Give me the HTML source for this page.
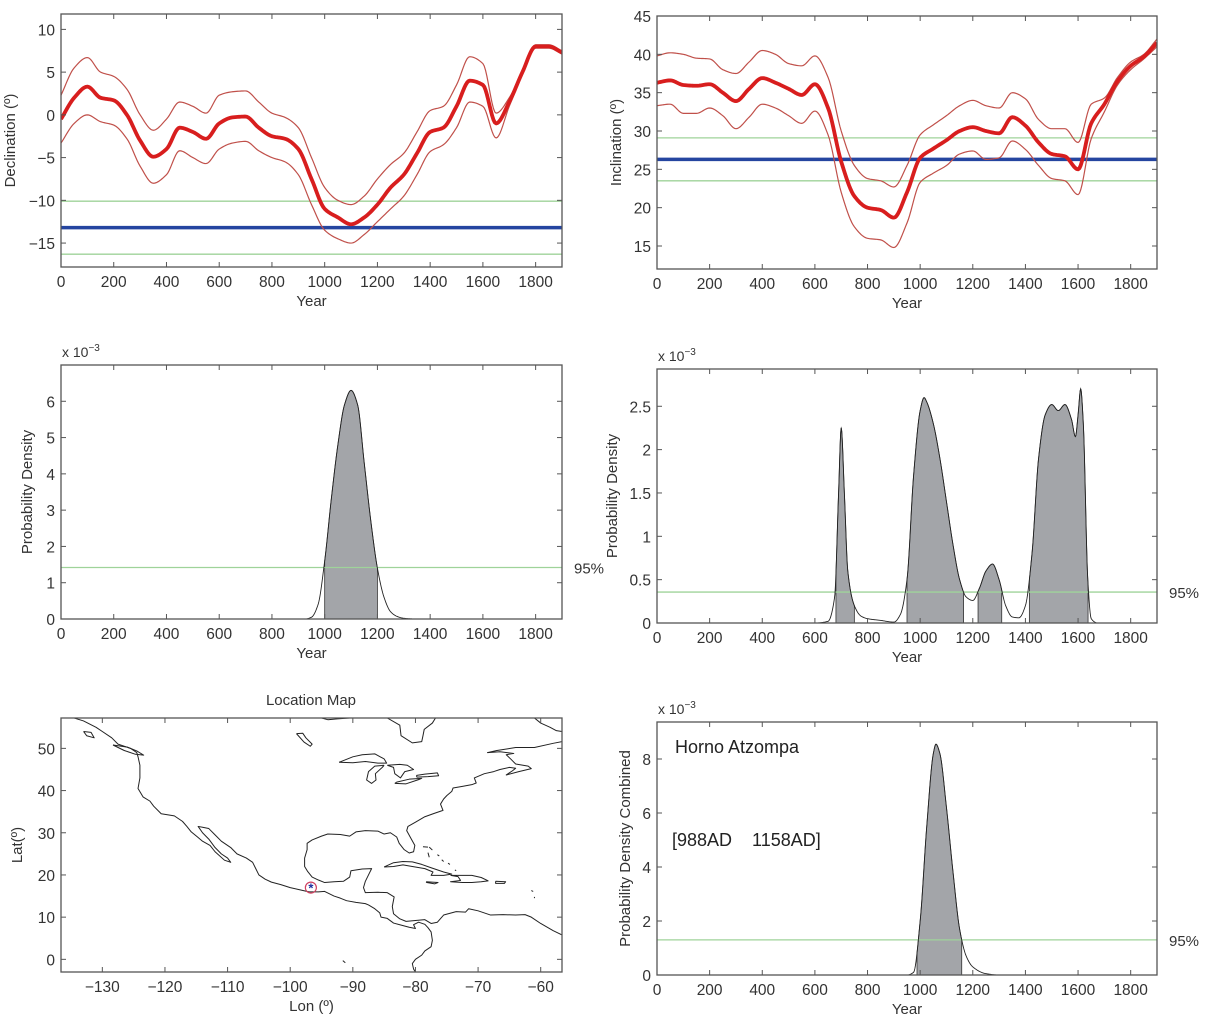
<!DOCTYPE html>
<html><head><meta charset="utf-8"><style>
html,body{margin:0;padding:0;background:#fff;}
svg{display:block;font-family:"Liberation Sans",Arial,sans-serif;}
</style></head><body>
<svg id="fig" width="1207" height="1024" viewBox="0 0 1207 1024" xmlns="http://www.w3.org/2000/svg"></svg>
<script>
// ---------- DATA ----------
const years50 = [0,50,100,150,200,250,300,350,400,450,500,550,600,650,700,750,800,850,900,950,1000,1050,1100,1150,1200,1250,1300,1350,1400,1450,1500,1550,1600,1650,1700,1750,1800,1850,1900];
const decMean = [-0.5,2,3.3,2,1.7,0,-3,-4.9,-4,-1.5,-2,-2.8,-1,-0.3,-0.2,-1.5,-2.5,-2.8,-4,-7.5,-11,-12,-12.8,-12,-10.5,-8.5,-7,-4.5,-2,-1.5,1,4,3.5,-1,1.5,5,8,8,7.3];
const decUpper = [2.3,5.5,6.7,5,4.5,3,0,-1.8,-0.5,1.5,1,0.2,2.3,2.7,2.8,1.5,0.2,-0.3,-1.5,-5,-8.5,-10,-10.5,-9.5,-7.5,-5.8,-4.5,-2,0.5,1,3.5,6.8,6,0.2,2,5.3,8.2,8.2,7.5];
const decLower = [-3.3,-1,0,-0.8,-1.2,-2.8,-6,-8,-7,-4.2,-5,-5.7,-4,-3.3,-3.1,-4.2,-5,-5.5,-7,-10.5,-13.5,-14.5,-15,-14,-12.5,-11,-9.5,-7,-4.3,-3.5,-1.5,1.5,1,-2.7,1,4.7,7.8,7.8,7.1];
const decRef = [-13.2, -10.1, -16.3]; // mean, upper95, lower95
const incMean = [36.3,36.6,36,35.9,36.1,35,33.9,35.5,36.9,36.3,35.5,34.7,36.1,33,26,21.5,20,19.7,18.7,22,26.5,27.7,28.8,30,30.5,30,29.7,31.8,30.7,28.5,27,26.7,25,31,33.5,36.5,38.5,39.7,41.5];
const incUpper = [39.8,40.2,40,39.5,39.4,38,37.5,39,40.5,40,38.8,38.5,39.8,37,30,25.5,23.8,23.5,22.7,25.5,29.5,30.8,32,33.3,34,33.3,33,35,34.2,31.5,30.3,30.3,28.5,33.5,34.3,37,39,40,42];
const incLower = [33.3,33.5,32.3,32.3,33,32,30.3,31.8,33.5,33,32,31,32.6,29.5,22,17.5,16,15.8,14.8,18,23.3,24.5,25.5,27,27.4,26.3,26.5,28.7,27.6,25.5,23.8,23.5,21.7,29,32.5,36,38,39.4,41];
const incRef = [26.3, 29.1, 23.5];

const pdDecYears = [0,850,900,925,950,975,1000,1025,1050,1075,1100,1125,1150,1175,1200,1225,1250,1275,1300,1350,1900];
const pdDecVals  = [0,0,0,0,0.05,0.4,1.6,3.3,4.8,5.9,6.3,5.9,4.3,2.7,1.4,0.6,0.2,0.07,0.02,0,0];
const pdDecLevel = 1.42;
const pdDecIntervals = [[1000,1200]];

const pdIncYears = [0,600,650,675,690,700,712,725,750,775,800,850,900,925,950,975,1000,1015,1025,1050,1075,1100,1125,1150,1175,1200,1225,1250,1275,1300,1325,1350,1375,1400,1425,1450,1475,1500,1525,1550,1575,1590,1600,1610,1620,1637,1650,1675,1900];
const pdIncVals  = [0,0,0.02,0.3,1.5,2.25,1.5,0.6,0.2,0.08,0.05,0.03,0.01,0.1,0.5,1.7,2.45,2.6,2.55,2.3,1.9,1.4,0.9,0.5,0.3,0.26,0.4,0.6,0.68,0.5,0.2,0.07,0.06,0.2,0.8,1.9,2.4,2.52,2.45,2.52,2.35,2.15,2.4,2.7,2.3,0.5,0.05,0,0];
const pdIncLevel = 0.357;
const pdIncIntervals = [[680,750],[950,1165],[1220,1310],[1415,1638]];

const pdCombYears = [0,900,950,975,1000,1025,1050,1060,1075,1100,1125,1150,1175,1200,1250,1300,1900];
const pdCombVals  = [0,0,0,0.1,2,5.5,8.2,8.55,8.2,6.2,3.8,1.7,0.7,0.3,0.05,0,0];
const pdCombLevel = 1.3;
const pdCombIntervals = [[988,1158]];

const yearTicks = [0,200,400,600,800,1000,1200,1400,1600,1800];
const decTicks = [10,5,0,-5,-10,-15];
const incTicks = [15,20,25,30,35,40,45];
const pdDecTicks = [0,1,2,3,4,5,6];
const pdIncTicks = [0,0.5,1,1.5,2,2.5];
const pdCombTicks = [0,2,4,6,8];
const lonTicks = [-130,-120,-110,-100,-90,-80,-70,-60];
const latTicks = [0,10,20,30,40,50];
const site = [-96.7, 17];

const coastPacific = [[-134.5,57.2],[-133,56.5],[-131,55],[-130,54],[-128.5,52.5],[-127.5,51],[-125.5,50],[-124.5,49],[-124.3,48],[-124,46],[-124,43],[-124.3,40.5],[-123.5,38.5],[-122.4,37.5],[-121.8,36.3],[-120.6,34.5],[-118.5,34],[-117.2,32.7],[-116.5,31.5],[-115.8,30.2],[-114.8,29],[-114,28],[-112.8,27],[-112,25.5],[-110.5,23.5],[-109.5,23],[-110,24],[-111,25],[-112,26.5],[-113,28.5],[-114,30],[-114.7,31.5],[-114,31.3],[-113,31],[-112,29.5],[-111,28],[-109.5,26.5],[-108.5,25],[-107,24],[-106,23],[-105.5,21.5],[-105,20],[-104,19],[-103,18.3],[-101.5,17.7],[-100,17],[-98.5,16.5],[-97,16],[-95.5,16],[-94.5,16.1],[-93,15],[-92,14.5],[-91,13.9],[-89.5,13.5],[-88,13.2],[-87.5,12.9],[-86.5,12],[-85.7,11],[-85.5,10],[-84.5,9.7],[-83.5,8.6],[-82.5,8.2],[-81,7.6],[-80,7.3],[-80.3,8.2],[-79.5,8.8],[-78.5,8.3],[-78,7.5],[-77.5,6.5],[-77.3,4.5],[-77.5,3],[-78.5,2],[-79,1],[-80,0],[-80.5,-1],[-80.3,-2.3],[-80,-3]];
const coastAtlantic = [[-56.6,5.8],[-58,6.8],[-60,8.5],[-61.5,10],[-62.5,10.6],[-64,10.5],[-66,10.6],[-68,10.5],[-70,11.5],[-71.5,12],[-72,11.2],[-73.5,11.3],[-75.5,10.5],[-76.5,8.8],[-77.5,8.5],[-78.5,9.4],[-80,9.2],[-81.5,9],[-82.5,9.6],[-83.5,10.8],[-83.7,12.5],[-83.4,14.8],[-84.5,15.8],[-86,15.9],[-88,15.8],[-88.3,17],[-88,18.5],[-87.5,20],[-87,21.5],[-88.5,21.4],[-90.3,21],[-90.5,19.5],[-91.5,18.5],[-93,18.4],[-94.5,18.2],[-95.5,18.8],[-96.5,19.5],[-97.2,20.8],[-97.7,22],[-97.7,24],[-97.3,26],[-97.3,27.5],[-96.5,28.3],[-95,29.2],[-94,29.7],[-92,29.6],[-90.5,29.2],[-89.5,30.2],[-88,30.5],[-86,30.4],[-85,29.7],[-84,30],[-83,29],[-82.6,27.5],[-81.8,26],[-81,25.2],[-80.3,25.5],[-80.1,27],[-80.7,28.6],[-81.4,30.5],[-81.2,31.5],[-80,32.5],[-78.5,33.8],[-77,34.6],[-75.6,35.3],[-76,36.8],[-75.5,38],[-75,38.8],[-74.2,39.8],[-74,40.6],[-72.5,41],[-71,41.4],[-70.3,41.8],[-70.6,43],[-69,44],[-67.5,44.5],[-66.5,45],[-65,45.5],[-64,45.3],[-64.5,44.7],[-65.5,43.7],[-63.5,44.5],[-61.5,45.2],[-62,45.8],[-64,46.3],[-64.8,47.5],[-65.5,48.5],[-64.3,48.8],[-66.5,49.2],[-68.5,49],[-67,49.5],[-64,50.2],[-61,50.2],[-58,51.2],[-56.6,51.6]];
const coastHudson = [[-95,57.2],[-94,56.8],[-92.5,57],[-90.5,57.2]];
const coastJames = [[-84.5,57.2],[-82.5,55.5],[-82.3,53],[-80.5,51.3],[-79,51.6],[-78.8,53],[-78.6,54.5],[-77.3,56],[-76.8,57.2]];
const coastTopRight = [[-61,57.2],[-60,56],[-58.5,55],[-57.5,54.2],[-56.6,54]];
const vancouver = [[-128.3,50.8],[-126,50.3],[-124.5,49.4],[-123.4,48.4],[-124.7,48.6],[-126.5,49.5],[-128.3,50.8]];
const queenCharlotte = [[-133,54],[-131.8,53.8],[-131.3,52.5],[-132.5,53],[-133,54]];
const lakeWinnipeg = [[-99,53.5],[-98,53.6],[-97.5,52.5],[-96.5,51],[-96.8,50.5],[-97.8,51.5],[-99,53.5]];
const lakeSuperior = [[-92.2,46.7],[-90,46.6],[-88,46.9],[-86,46.5],[-84.6,46.5],[-85,47.5],[-86.5,48.7],[-88.5,48.5],[-90,48],[-92.2,46.7]];
const lakeMichigan = [[-85,46],[-86.5,45.8],[-87.5,44.5],[-87.8,42.5],[-87,41.7],[-86.3,42.5],[-86.4,44],[-85.3,45.5],[-85,46]];
const lakeHuron = [[-84.5,46],[-83.5,45.5],[-83.3,44],[-82.4,43],[-81.7,44.5],[-80.3,45],[-81.3,46],[-82.5,46.2],[-84.5,46]];
const lakeErie = [[-83.3,41.7],[-81.5,41.6],[-79.5,42.6],[-79,42.9],[-81,42.7],[-83,42],[-83.3,41.7]];
const lakeOntario = [[-79.8,43.2],[-78,43.3],[-76.3,43.5],[-76.5,44.2],[-78.5,43.9],[-79.8,43.6],[-79.8,43.2]];
const cuba = [[-85,21.9],[-83.5,22.9],[-82,23.2],[-80.5,23.1],[-79,22.5],[-77.5,21.7],[-75.5,20.7],[-74.2,20.2],[-75.5,19.9],[-77.5,19.9],[-77.2,20.7],[-78.5,21.5],[-80.5,22],[-82,22.4],[-83.5,22],[-85,21.9]];
const hispaniola = [[-74.4,19.9],[-72.5,19.9],[-71,19.9],[-69.5,19.4],[-68.4,18.6],[-69.5,18.4],[-71,18.2],[-72.5,18.2],[-74.4,18.4],[-72.8,18.7],[-73.2,19.6],[-74.4,19.9]];
const jamaica = [[-78.3,18.4],[-76.4,18.2],[-76.9,17.9],[-78.2,18.2],[-78.3,18.4]];
const puertoRico = [[-67.2,18.5],[-65.6,18.4],[-65.8,18],[-67.2,18],[-67.2,18.5]];
const bahamas = [[[-78.8,26.7],[-78,26.6]],[[-77.8,26.6],[-77.3,25.9]],[[-78,25.3],[-77.8,24.2]],[[-76.5,24.8],[-76.2,24.5]],[[-75.8,23.6],[-75.5,23.2]],[[-74.8,22.8],[-74.5,22.5]],[[-73.7,21.2],[-73.5,21]],[[-61.5,16.3],[-61.2,16.1]],[[-61,14.8],[-61,14.5]],[[-91.6,-0.3],[-91.2,-0.8]]];

// ---------- HELPERS ----------
const NS = "http://www.w3.org/2000/svg";
const svg = document.getElementById('fig');
function mk(tag, attrs, parent) {
  const e = document.createElementNS(NS, tag);
  for (const k in attrs) e.setAttribute(k, attrs[k]);
  (parent || svg).appendChild(e);
  return e;
}
function mono(xs, ys) {
  const n = xs.length, d = [], m = [];
  for (let i = 0; i < n - 1; i++) d.push((ys[i+1]-ys[i])/(xs[i+1]-xs[i]));
  m[0] = d[0]; m[n-1] = d[n-2];
  for (let i = 1; i < n - 1; i++) {
    if (d[i-1]*d[i] <= 0) m[i] = 0;
    else { const w1 = 2*(xs[i+1]-xs[i])+(xs[i]-xs[i-1]), w2 = (xs[i+1]-xs[i])+2*(xs[i]-xs[i-1]); m[i] = (w1+w2)/(w1/d[i-1]+w2/d[i]); }
  }
  return function(x) {
    let i = 0;
    while (i < n - 2 && x > xs[i+1]) i++;
    const h = xs[i+1]-xs[i], t = (x-xs[i])/h, t2 = t*t, t3 = t2*t;
    return (2*t3-3*t2+1)*ys[i] + (t3-2*t2+t)*h*m[i] + (-2*t3+3*t2)*ys[i+1] + (t3-t2)*h*m[i+1];
  };
}
function axes(name, x0, x1, y0, y1, xmin, xmax, ymin, ymax, xt, yt, xlabel, ylabel, ylabX, xfmt) {
  const g = mk('g', {});
  
  
  const sx = v => x0 + (v - xmin) / (xmax - xmin) * (x1 - x0);
  const sy = v => y1 - (v - ymin) / (ymax - ymin) * (y1 - y0);
  mk('rect', {x:x0, y:y0, width:x1-x0, height:y1-y0, fill:'#fff', stroke:'none'}, g);
  return {g, sx, sy, finish: function() {
    const f = mk('g', {}, g);
    
    
    mk('rect', {x:x0, y:y0, width:x1-x0, height:y1-y0, fill:'none', stroke:'#555', 'stroke-width':1.3}, f);
    xt.forEach(v => {
      const x = sx(v);
      mk('line', {x1:x, x2:x, y1:y1, y2:y1-5, stroke:'#555', 'stroke-width':1}, f);
      mk('line', {x1:x, x2:x, y1:y0, y2:y0+5, stroke:'#555', 'stroke-width':1}, f);
      const t = mk('text', {x:x, y:y1+20, 'font-size':15.5, 'text-anchor':'middle', fill:'#333'}, f);
      t.textContent = xfmt ? xfmt(v) : String(v);
      
      
    });
    yt.forEach(v => {
      const y = sy(v);
      mk('line', {x1:x0, x2:x0+5, y1:y, y2:y, stroke:'#555', 'stroke-width':1}, f);
      mk('line', {x1:x1, x2:x1-5, y1:y, y2:y, stroke:'#555', 'stroke-width':1}, f);
      const t = mk('text', {x:x0-6, y:y+6, 'font-size':15.5, 'text-anchor':'end', fill:'#333'}, f);
      t.textContent = String(v).replace('-', '\u2212');
      
      
    });
    const xl = mk('text', {x:(x0+x1)/2, y:y1+39, 'font-size':15, 'text-anchor':'middle', fill:'#333'}, f);
    xl.textContent = xlabel;
    
    
    const cy = (y0+y1)/2;
    const yl = mk('text', {x:ylabX, y:cy, 'font-size':15, 'text-anchor':'middle', fill:'#333', transform:'rotate(-90 '+ylabX+' '+cy+')'}, f);
    yl.textContent = ylabel;
    
    
  }};
}
function clipFor(id, x0, y0, x1, y1) {
  const defs = mk('defs', {});
  const cp = mk('clipPath', {id:id}, defs);
  mk('rect', {x:x0, y:y0, width:x1-x0, height:y1-y0}, cp);
}
function curvePath(ax, f, a, b, step) {
  let d = '';
  for (let x = a; x <= b + 0.001; x += step) d += (d ? 'L' : 'M') + ax.sx(x).toFixed(2) + ',' + ax.sy(f(x)).toFixed(2);
  return d;
}
function hline(ax, v, x0, x1, color, w, nm) {
  const l = mk('line', {x1:x0, x2:x1, y1:ax.sy(v), y2:ax.sy(v), stroke:color, 'stroke-width':w}, ax.g);
  
  
}

// ---------- CURVE PANELS ----------
function curvePanel(name, x0, x1, y0, y1, ymin, ymax, yt, ylabel, ylabX, mean, up, lo, ref) {
  const ax = axes(name, x0, x1, y0, y1, 0, 1900, ymin, ymax, yearTicks, yt, 'Year', ylabel, ylabX);
  clipFor(name + '-clip', x0, y0, x1, y1);
  const g = mk('g', {'clip-path':'url(#' + name + '-clip)'}, ax.g);
  const fm = mono(years50, mean), fu = mono(years50, up), fl = mono(years50, lo);
  hline({g, sy:ax.sy}, ref[1], x0, x1, '#9fd39a', 1.3, 'upper-95-reference');
  hline({g, sy:ax.sy}, ref[2], x0, x1, '#9fd39a', 1.3, 'lower-95-reference');
  hline({g, sy:ax.sy}, ref[0], x0, x1, '#2545a0', 3.5, 'reference-value-line');
  let p = mk('path', {d:curvePath(ax, fu, 0, 1900, 5), fill:'none', stroke:'#c0504a', 'stroke-width':1.2}, g);
  
  
  p = mk('path', {d:curvePath(ax, fl, 0, 1900, 5), fill:'none', stroke:'#c0504a', 'stroke-width':1.2}, g);
  
  
  p = mk('path', {d:curvePath(ax, fm, 0, 1900, 5), fill:'none', stroke:'#d81e1e', 'stroke-width':3.8, 'stroke-linejoin':'round'}, g);
  
  
  ax.finish();
}
curvePanel('declination-chart', 61, 562, 14, 267, -17.8, 11.8, decTicks, 'Declination (\u00ba)', 15, decMean, decUpper, decLower, decRef);
curvePanel('inclination-chart', 657, 1157, 16, 269, 12, 45, incTicks, 'Inclination (\u00ba)', 621, incMean, incUpper, incLower, incRef);

// ---------- PDF PANELS ----------
function pdfPanel(name, x0, x1, y0, y1, ymax, yt, ylabel, ylabX, xs, vs, level, intervals) {
  const ax = axes(name, x0, x1, y0, y1, 0, 1900, 0, ymax, yearTicks, yt, 'Year', ylabel, ylabX);
  const f = mono(xs, vs);
  const fc = x => Math.max(0, f(x));
  intervals.forEach(iv => {
    let d = 'M' + ax.sx(iv[0]) + ',' + ax.sy(0);
    for (let x = iv[0]; x <= iv[1] + 0.001; x += 1) d += 'L' + ax.sx(x).toFixed(2) + ',' + ax.sy(fc(x)).toFixed(2);
    d += 'L' + ax.sx(iv[1]) + ',' + ax.sy(0) + 'Z';
    const p = mk('path', {d:d, fill:'#a3a5a9', stroke:'#333', 'stroke-width':0.8}, ax.g);
    
    
  });
  hline(ax, level, x0, x1, '#9fd39a', 1.3, 'level-95-line');
  const p = mk('path', {d:curvePath(ax, fc, 0, 1900, 2), fill:'none', stroke:'#222', 'stroke-width':0.9}, ax.g);
  
  
  ax.finish();
  const t = mk('text', {x:x1 + 12, y:ax.sy(level) + 6, 'font-size':15, fill:'#333'}, ax.g);
  t.textContent = '95%';
  
  
  const e = mk('text', {x:x0 + 1, y:y0 - 8, 'font-size':14, fill:'#333'}, ax.g);
  e.textContent = 'x 10';
  
  
  const s = mk('tspan', {dy:-6, 'font-size':10}, e);
  s.textContent = '\u22123';
  return ax;
}
pdfPanel('declination-pdf-chart', 61, 562, 365, 619, 7, pdDecTicks, 'Probability Density', 32, pdDecYears, pdDecVals, pdDecLevel, pdDecIntervals);
pdfPanel('inclination-pdf-chart', 657, 1157, 369, 623, 2.93, pdIncTicks, 'Probability Density', 617, pdIncYears, pdIncVals, pdIncLevel, pdIncIntervals);
const axC = pdfPanel('combined-pdf-chart', 657, 1157, 722, 975, 9.37, pdCombTicks, 'Probability Density Combined', 630, pdCombYears, pdCombVals, pdCombLevel, pdCombIntervals);
let tt = mk('text', {x:675, y:753, 'font-size':18, fill:'#222'});
tt.textContent = 'Horno Atzompa';


tt = mk('text', {x:672, y:846, 'font-size':18, fill:'#222'});
tt.textContent = '[988AD\u00a0\u00a0\u00a0 1158AD]';



// ---------- MAP ----------
const axM = axes('location-map', 61, 562, 718, 972, -136.6, -56.6, -3, 57.2, lonTicks, latTicks, 'Lon (\u00ba)', 'Lat(\u00ba)', 22, v => String(v).replace('-', '\u2212'));
clipFor('map-clip', 61, 718, 562, 972);
const gm = mk('g', {'clip-path':'url(#map-clip)'}, axM.g);
function poly(pts, nm) {
  const d = pts.map((p, i) => (i ? 'L' : 'M') + axM.sx(p[0]).toFixed(2) + ',' + axM.sy(p[1]).toFixed(2)).join('');
  const p = mk('path', {d:d, fill:'none', stroke:'#222', 'stroke-width':1, 'stroke-linejoin':'round'}, gm);
  
  
}
poly(coastPacific, 'pacific-coastline');
poly(coastAtlantic, 'atlantic-coastline');
poly(coastHudson, 'hudson-bay-coastline');
poly(coastJames, 'james-bay-coastline');
poly(coastTopRight, 'labrador-coastline');
poly(vancouver, 'vancouver-island');
poly(queenCharlotte, 'haida-gwaii');
poly(lakeWinnipeg, 'lake-winnipeg');
poly(lakeSuperior, 'lake-superior');
poly(lakeMichigan, 'lake-michigan');
poly(lakeHuron, 'lake-huron');
poly(lakeErie, 'lake-erie');
poly(lakeOntario, 'lake-ontario');
poly(cuba, 'cuba');
poly(hispaniola, 'hispaniola');
poly(jamaica, 'jamaica');
poly(puertoRico, 'puerto-rico');
bahamas.forEach(b => poly(b, 'small-island'));
const sc = mk('circle', {cx:axM.sx(site[0]), cy:axM.sy(site[1]), r:5.5, fill:'none', stroke:'#d04060', 'stroke-width':1.2}, axM.g);


const st = mk('text', {x:axM.sx(site[0]), y:axM.sy(site[1]) + 5, 'font-size':13, 'font-weight':'bold', 'text-anchor':'middle', fill:'#2030a0'}, axM.g);
st.textContent = '*';


axM.finish();
const mt = mk('text', {x:311, y:705, 'font-size':15, 'text-anchor':'middle', fill:'#333'});
mt.textContent = 'Location Map';


</script>
</body></html>
